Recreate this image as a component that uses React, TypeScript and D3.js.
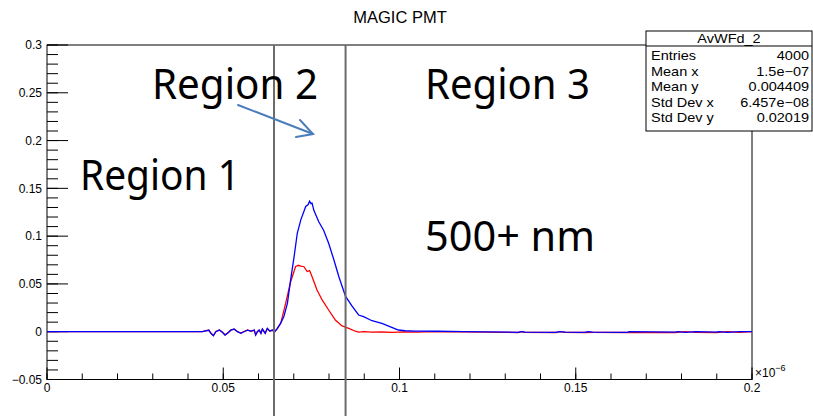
import React from "react";
import * as d3 from "d3";

// ---- data (x in units of 1e-6 s) ----
const blueX = [0, 0.0441, 0.0451, 0.0459, 0.0465, 0.0472, 0.0479, 0.0489, 0.0498, 0.0505, 0.0512, 0.0522, 0.0531, 0.054, 0.055, 0.0559, 0.0569, 0.0578, 0.0588, 0.0592, 0.0597, 0.0602, 0.0607, 0.0611, 0.0619, 0.0625, 0.0632, 0.0639, 0.0646, 0.0653, 0.0663, 0.0672, 0.0682, 0.0691, 0.0701, 0.071, 0.072, 0.0734, 0.0741, 0.0745, 0.0749, 0.0752, 0.0757, 0.0771, 0.0785, 0.0799, 0.0814, 0.0828, 0.0847, 0.0865, 0.0884, 0.0898, 0.0922, 0.095, 0.0978, 0.0997, 0.1016, 0.1044, 0.111, 0.118, 0.1336, 0.1346, 0.1356, 0.1444, 0.1455, 0.147, 0.1525, 0.1535, 0.1548, 0.1647, 0.1652, 0.1782, 0.179, 0.181, 0.184, 0.19, 0.1905, 0.193, 0.1966, 0.2];
const blueY = [0, 0, 0.001, 0.0017, -0.0017, -0.0042, 0, 0.0017, -0.0007, -0.0035, -0.0017, 0.0017, 0.0028, 0, -0.0017, 0, 0.0017, 0.0007, 0.0017, -0.0035, 0, 0.0017, -0.0017, 0.0028, -0.0017, 0.0035, 0.0007, 0.0017, 0, 0.003, 0.009, 0.016, 0.0297, 0.054, 0.0785, 0.103, 0.117, 0.131, 0.133, 0.1365, 0.134, 0.1345, 0.127, 0.115, 0.106, 0.0925, 0.075, 0.0575, 0.037, 0.027, 0.0175, 0.0157, 0.0115, 0.0088, 0.0046, 0.0018, 0.001, 0.0007, 0.0005, 0, -0.0006, 0, -0.0005, -0.0006, 0, -0.0005, -0.0006, 0, -0.0005, -0.0006, 0, -0.0005, 0, -0.0006, 0, -0.0005, 0, -0.0006, 0, 0];

const redX = [0, 0.0441, 0.0451, 0.0459, 0.0465, 0.0472, 0.0479, 0.0489, 0.0498, 0.0505, 0.0512, 0.0522, 0.0531, 0.054, 0.055, 0.0559, 0.0569, 0.0578, 0.0588, 0.0592, 0.0597, 0.0602, 0.0607, 0.0611, 0.0619, 0.0625, 0.0632, 0.0639, 0.0646, 0.0653, 0.0663, 0.0677, 0.0691, 0.0705, 0.0713, 0.072, 0.0729, 0.0738, 0.0745, 0.0752, 0.0766, 0.0781, 0.0799, 0.0818, 0.0837, 0.0856, 0.0875, 0.0884, 0.09, 0.092, 0.095, 0.098, 0.101, 0.105, 0.11, 0.1336, 0.1346, 0.1356, 0.1444, 0.1455, 0.147, 0.1525, 0.1548, 0.1647, 0.1782, 0.181, 0.184, 0.19, 0.193, 0.1966, 0.2];
const redY = [0, 0, 0.0012, 0.0015, -0.0015, -0.004, 0.0002, 0.0019, -0.0005, -0.0033, -0.0015, 0.0019, 0.0026, 0.0002, -0.0015, 0.0002, 0.0019, 0.0005, 0.0015, -0.0033, 0.0002, 0.0015, -0.0015, 0.0026, -0.0015, 0.0033, 0.0005, 0.0015, 0, 0.0035, 0.0088, 0.0297, 0.052, 0.068, 0.0695, 0.0687, 0.068, 0.063, 0.064, 0.0575, 0.0436, 0.033, 0.0227, 0.0122, 0.006, 0.0035, 0.0005, -0.0005, 0, -0.0005, -0.0003, -0.0006, -0.0002, -0.0005, 0, -0.0008, 0, -0.0007, -0.0008, 0, -0.0007, -0.0008, -0.0007, -0.0008, -0.0008, 0, -0.0007, -0.0008, 0, -0.0007, 0];

const xTickValues = [0, 0.05, 0.1, 0.15, 0.2];
const xTickLabels = ["0", "0.05", "0.1", "0.15", "0.2"];
const yTickValues = [-0.05, 0, 0.05, 0.1, 0.15, 0.2, 0.25, 0.3];
const yTickLabels = ["\u22120.05", "0", "0.05", "0.1", "0.15", "0.2", "0.25", "0.3"];
const regionBounds = [0.0644, 0.0847];

const statsTitle = "AvWFd_2";
const statsNames = ["Entries", "Mean x", "Mean y", "Std Dev x", "Std Dev y"];
const statsValues = ["4000", "1.5e\u221207", "0.004409", "6.457e\u221208", "0.02019"];

const chartTitle = "MAGIC PMT";

export default function App() {
  const W = 813, H = 416;
  const left = 47, right = 752, top = 45, bottom = 379.5;
  const x = d3.scaleLinear().domain([0, 0.2]).range([left, right]);
  const y = d3.scaleLinear().domain([-0.05, 0.3]).range([bottom, top]);

  const line = d3.line<[number, number]>().x((d) => x(d[0])).y((d) => y(d[1]));
  const bluePath = line(blueX.map((v, i) => [v, blueY[i]]) as [number, number][]) || "";
  const redPath = line(redX.map((v, i) => [v, redY[i]]) as [number, number][]) || "";

  const xMinor = d3.range(0, 0.2001, 0.01);
  const yMinor = d3.range(-0.05, 0.3001, 0.01);

  const rootFont = "'Liberation Sans', Arial, Helvetica, sans-serif";
  const pptFont = "'Noto Sans', 'Open Sans', sans-serif";

  const boxL = 646, boxR = 812, boxT = 31, boxB = 131, boxTitleB = 46;
  const sx = 1.16;

  return (
    <svg width={W} height={H} style={{ position: "absolute", left: 0, top: 0, background: "#fff" }}>
      <rect x={0} y={0} width={W} height={H} fill="#fff" />
      {/* title */}
      <text x={400} y={22.5} fontFamily={rootFont} fontSize={16.5} textAnchor="middle" fill="#000">
        {chartTitle}
      </text>

      {/* frame */}
      <rect x={left} y={top} width={right - left} height={bottom - top} fill="none" stroke="#000" strokeWidth={1} />

      {/* y ticks */}
      {yMinor.map((v, i) => (
        <line key={"ym" + i} x1={left} x2={left + 11} y1={y(v)} y2={y(v)} stroke="#000" strokeWidth={1} />
      ))}
      {yTickValues.map((v, i) => (
        <g key={"yt" + i}>
          <line x1={left} x2={left + 21} y1={y(v)} y2={y(v)} stroke="#000" strokeWidth={1} />
          <text x={left - 5} y={y(v) + 4.2} fontFamily={rootFont} fontSize={12} textAnchor="end" fill="#000">
            {yTickLabels[i]}
          </text>
        </g>
      ))}

      {/* x ticks */}
      {xMinor.map((v, i) => (
        <line key={"xm" + i} x1={x(v)} x2={x(v)} y1={bottom} y2={bottom - 6} stroke="#000" strokeWidth={1} />
      ))}
      {xTickValues.map((v, i) => (
        <g key={"xt" + i}>
          <line x1={x(v)} x2={x(v)} y1={bottom} y2={bottom - 12} stroke="#000" strokeWidth={1} />
          <text x={x(v)} y={bottom + 12.5} fontFamily={rootFont} fontSize={12} textAnchor="middle" fill="#000">
            {xTickLabels[i]}
          </text>
        </g>
      ))}
      <text x={right + 3} y={bottom - 3} fontFamily={rootFont} fontSize={12} fill="#000">
        {"\u00d710"}
        <tspan dy={-6} fontSize={9}>{"\u22126"}</tspan>
      </text>

      {/* curves */}
      <path d={redPath} fill="none" stroke="#ff0000" strokeWidth={1.3} />
      <path d={bluePath} fill="none" stroke="#0000ff" strokeWidth={1.3} />

      {/* region separators */}
      {regionBounds.map((v, i) => (
        <line key={"rb" + i} x1={x(v)} x2={x(v)} y1={top} y2={H} stroke="#6b6b6b" strokeWidth={2} />
      ))}

      {/* stats box */}
      <rect x={boxL} y={boxT} width={boxR - boxL} height={boxB - boxT} fill="#fff" stroke="#000" strokeWidth={1} />
      <line x1={boxL} x2={boxR} y1={boxTitleB} y2={boxTitleB} stroke="#000" strokeWidth={1} />
      <g transform={`translate(${(boxL + boxR) / 2},${boxTitleB - 3}) scale(${sx},1)`}>
        <text x={0} y={0} fontFamily={rootFont} fontSize={12.5} textAnchor="middle" fill="#000">
          {statsTitle}
        </text>
      </g>
      {statsNames.map((n, i) => (
        <g key={"st" + i}>
          <g transform={`translate(${boxL + 5},${60 + i * 15.5}) scale(${sx},1)`}>
            <text x={0} y={0} fontFamily={rootFont} fontSize={12.5} fill="#000">{n}</text>
          </g>
          <g transform={`translate(${boxR - 3},${60 + i * 15.5}) scale(${sx},1)`}>
            <text x={0} y={0} fontFamily={rootFont} fontSize={12.5} textAnchor="end" fill="#000">{statsValues[i]}</text>
          </g>
        </g>
      ))}

      {/* annotations */}
      <text x={80} y={190} fontFamily={pptFont} fontSize={42} textLength={160} lengthAdjust="spacingAndGlyphs" fill="#000">Region 1</text>
      <text x={152} y={99} fontFamily={pptFont} fontSize={42} textLength={166} lengthAdjust="spacingAndGlyphs" fill="#000">Region 2</text>
      <text x={425} y={99} fontFamily={pptFont} fontSize={42} textLength={165} lengthAdjust="spacingAndGlyphs" fill="#000">Region 3</text>
      <text x={425} y={251} fontFamily={pptFont} fontSize={42} textLength={170} lengthAdjust="spacingAndGlyphs" fill="#000">500+ nm</text>

      {/* arrow */}
      <g stroke="#4a7ebb" strokeWidth={2} fill="none" strokeLinecap="round">
        <line x1={238} y1={105} x2={313} y2={134} />
        <polyline points={`${313 - 13},${134 - 14} 313,134 ${313 - 17},${134 + 3}`} />
      </g>
    </svg>
  );
}
